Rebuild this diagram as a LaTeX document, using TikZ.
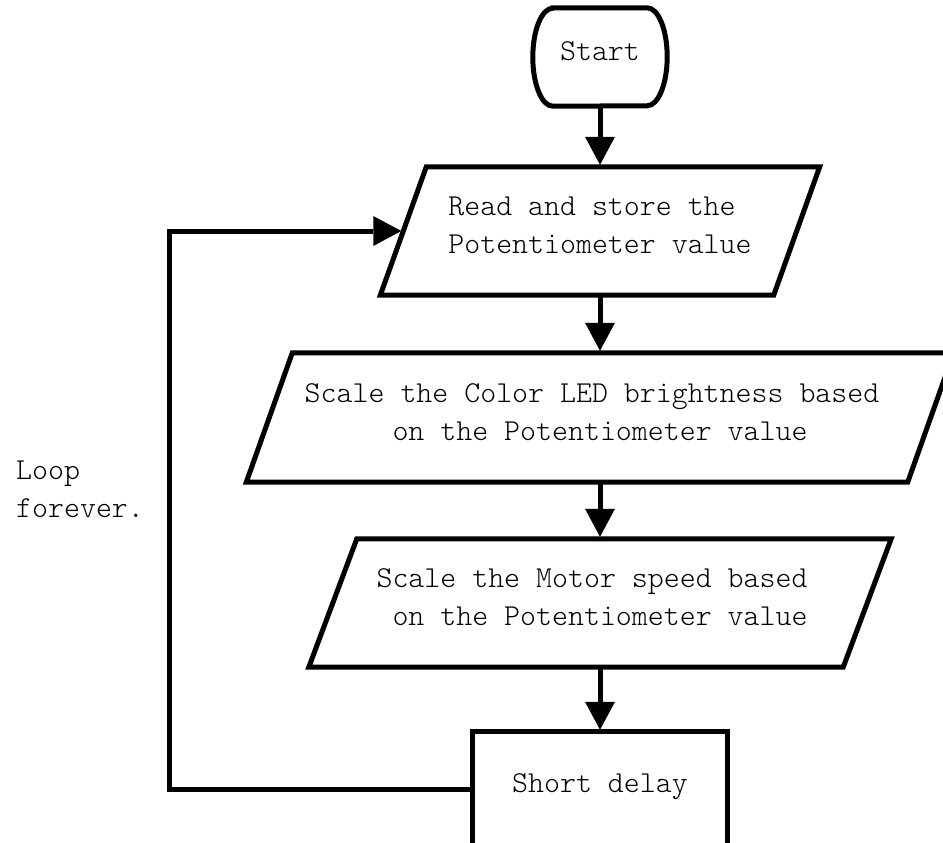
\documentclass[tikz,border=0pt]{standalone}
\usepackage{fontspec}
\setmonofont{Latin Modern Mono Light}
\usetikzlibrary{arrows.meta,calc}
\newcommand\lnstrut{\rule[-14.9pt]{0pt}{37.4pt}}
\begin{document}
\begin{tikzpicture}[x=1pt,y=-1pt,
  txt/.style={font=\fontsize{30.4}{38}\selectfont\ttfamily, inner sep=0pt, align=center},
  outline/.style={line width=5pt, line join=miter},
  flow/.style={line width=5pt, shorten >=2pt, -{Triangle[length=28pt,width=30pt,line width=0pt]}}]
\useasboundingbox (0,0) rectangle (943,843);
\clip (0,0) rectangle (943,843);

% nodes
\node[txt, minimum width=134pt, minimum height=98pt] (start) at (600,57) {\lnstrut Start};
\node[txt, minimum width=393pt, minimum height=128pt] (p1) at (600,231)
  {\lnstrut Read and store the\hphantom{x}\\\lnstrut Potentiometer value};
\node[txt, minimum width=661pt, minimum height=129pt] (p2) at (600,417.5)
  {\lnstrut Scale the Color LED brightness based\hphantom{x}\\\lnstrut on the Potentiometer value};
\node[txt, minimum width=534pt, minimum height=128pt] (p3) at (600,603)
  {\lnstrut Scale the Motor speed based\hphantom{x}\\\lnstrut on the Potentiometer value};
\node[txt, minimum width=254pt, minimum height=114pt] (delay) at (600,789) {\lnstrut Short delay};
\node[txt, align=left, anchor=north west] (loop) at (16,457) {\lnstrut Loop\\\lnstrut forever.};

% outlines
\draw[outline] ([xshift=20pt]start.north west) -- ([xshift=-20pt]start.north east)
  arc[start angle=90,end angle=-90,x radius=20pt,y radius=49pt]
  -- ([xshift=20pt]start.south west)
  arc[start angle=270,end angle=90,x radius=20pt,y radius=49pt] -- cycle;
\draw[outline] ([xshift=23pt]p1.north west) -- ([xshift=23pt]p1.north east)
  -- ([xshift=-23pt]p1.south east) -- ([xshift=-23pt]p1.south west) -- cycle;
\draw[outline] ([xshift=23pt]p2.north west) -- ([xshift=23pt]p2.north east)
  -- ([xshift=-23pt]p2.south east) -- ([xshift=-23pt]p2.south west) -- cycle;
\draw[outline] ([xshift=24pt]p3.north west) -- ([xshift=24pt]p3.north east)
  -- ([xshift=-24pt]p3.south east) -- ([xshift=-24pt]p3.south west) -- cycle;
\draw[outline] (delay.north west) rectangle (delay.south east);

% connectors
\draw[flow] (start.south) -- (p1.north);
\draw[flow] (p1.south) -- (p2.north);
\draw[flow] (p2.south) -- (p3.north);
\draw[flow] (p3.south) -- (delay.north);
\draw[flow] (delay.west) -- ++(-303,0) |- (p1.west);
\end{tikzpicture}
\end{document}
